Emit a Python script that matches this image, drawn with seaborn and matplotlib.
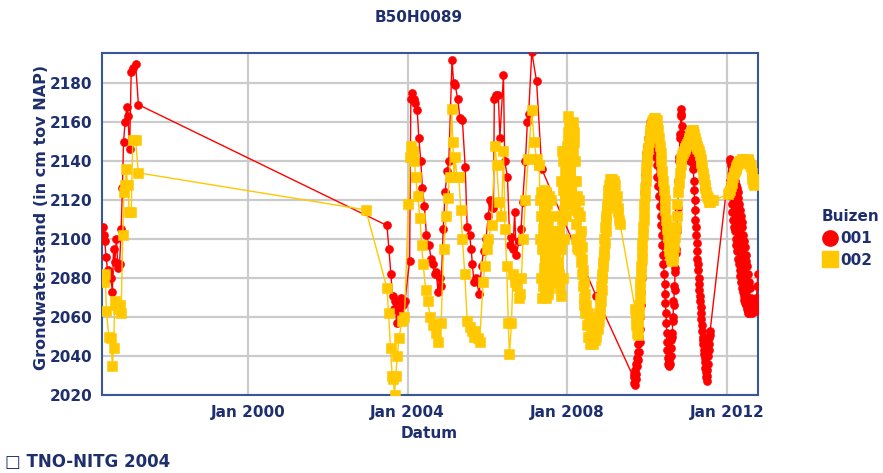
import numpy as np
import pandas as pd
import matplotlib
matplotlib.use("Agg")
import matplotlib.pyplot as plt
from matplotlib.lines import Line2D
from matplotlib.ticker import MultipleLocator
import seaborn as sns

# ---------------- data (decimal years, cm tov NAP) ----------------
# Buis 001 : manual readings 1996-2007
t001_hand = [1996.37, 1996.39, 1996.41, 1996.44, 1996.48, 1996.52, 1996.56, 1996.60, 1996.63, 1996.66,
             1996.70, 1996.74, 1996.78, 1996.82, 1996.85, 1996.88, 1996.92, 1996.96, 1996.99, 1997.03,
             1997.07, 1997.11, 1997.18, 1997.25,
             2003.48, 2003.53, 2003.58, 2003.62, 2003.66, 2003.69, 2003.72, 2003.75, 2003.79, 2003.83,
             2003.88, 2003.93, 2004.05, 2004.08, 2004.11, 2004.15, 2004.19, 2004.24, 2004.28, 2004.33,
             2004.37, 2004.42, 2004.47, 2004.53, 2004.59, 2004.63, 2004.68, 2004.72, 2004.76, 2004.80,
             2004.84, 2004.89, 2004.94, 2004.99, 2005.03, 2005.11, 2005.15, 2005.19, 2005.25, 2005.31,
             2005.37, 2005.44, 2005.49, 2005.55, 2005.59, 2005.62, 2005.66, 2005.71, 2005.79, 2005.85,
             2005.90, 2005.96, 2006.02, 2006.06, 2006.11, 2006.15, 2006.17, 2006.22, 2006.27, 2006.31,
             2006.40, 2006.43, 2006.50, 2006.56, 2006.60, 2006.64, 2006.68, 2006.72, 2006.79, 2006.84,
             2006.88, 2006.95, 2007.00, 2007.03, 2007.11, 2007.23, 2007.36, 2008.72]
v001_hand = [2106, 2102, 2099, 2091, 2084, 2083, 2080, 2073, 2095, 2088,
             2100, 2085, 2087, 2105, 2126, 2150, 2160, 2168, 2163, 2146,
             2186, 2188, 2190, 2169,
             2107, 2095, 2082, 2071, 2064, 2068, 2057, 2067, 2063, 2070,
             2066, 2068, 2089, 2172, 2175, 2172, 2170, 2166, 2152, 2140,
             2126, 2117, 2102, 2097, 2090, 2087, 2082, 2083, 2073, 2080,
             2076, 2105, 2124, 2135, 2140, 2192, 2180, 2179, 2172, 2162,
             2161, 2137, 2106, 2102, 2095, 2087, 2078, 2080, 2072, 2086,
             2094, 2100, 2112, 2120, 2118, 2116, 2172, 2174, 2174, 2152,
             2184, 2140, 2132, 2097, 2101, 2095, 2114, 2092, 2099, 2105,
             2119, 2140, 2160, 2164, 2196, 2181, 2136, 2071]

# Buis 001 : logger 2009.66 - 2011.58
t001_log1 = [2009.66, 2009.67, 2009.68, 2009.69, 2009.70, 2009.71, 2009.72, 2009.73, 2009.74, 2009.75,
             2009.76, 2009.77, 2009.78, 2009.79, 2009.80, 2009.81, 2009.82, 2009.83, 2009.84, 2009.85,
             2009.86, 2009.87, 2009.88, 2009.89, 2009.90, 2009.91, 2009.92, 2009.93, 2009.94, 2009.95,
             2009.96, 2009.97, 2009.98, 2010.00, 2010.02, 2010.04, 2010.06, 2010.08,
             2010.11, 2010.14, 2010.17, 2010.20, 2010.22, 2010.24, 2010.26, 2010.28, 2010.30, 2010.32,
             2010.34, 2010.35, 2010.37, 2010.38, 2010.40, 2010.41, 2010.43, 2010.44, 2010.45, 2010.46,
             2010.47, 2010.48, 2010.49, 2010.50, 2010.51, 2010.52, 2010.53, 2010.54, 2010.55,
             2010.56, 2010.57, 2010.58, 2010.59, 2010.60, 2010.61, 2010.62, 2010.63, 2010.64, 2010.65,
             2010.66, 2010.67, 2010.68, 2010.69, 2010.70, 2010.71, 2010.72, 2010.73, 2010.74, 2010.75,
             2010.76, 2010.77, 2010.78, 2010.79, 2010.80, 2010.81, 2010.82, 2010.83, 2010.84, 2010.85,
             2010.86, 2010.87, 2010.88, 2010.90, 2010.92, 2010.94, 2010.96, 2010.98, 2011.00, 2011.02,
             2011.04, 2011.06, 2011.08, 2011.10, 2011.12, 2011.14, 2011.16,
             2011.17, 2011.18, 2011.19, 2011.20, 2011.21, 2011.22, 2011.23, 2011.24, 2011.25, 2011.26,
             2011.27, 2011.28, 2011.29, 2011.30, 2011.31, 2011.32, 2011.33, 2011.34, 2011.35, 2011.36,
             2011.37, 2011.38, 2011.39, 2011.40, 2011.41, 2011.42, 2011.43, 2011.44, 2011.45, 2011.46,
             2011.47, 2011.48, 2011.49, 2011.50, 2011.51, 2011.52, 2011.53, 2011.54, 2011.55, 2011.56,
             2011.57, 2011.58]
v001_log1 = [2029, 2026, 2031, 2025, 2033, 2028, 2036, 2031, 2039, 2035,
             2042, 2038, 2046, 2042, 2050, 2047, 2054, 2060, 2066, 2073,
             2080, 2087, 2094, 2101, 2108, 2114, 2119, 2124, 2129, 2133,
             2137, 2141, 2144, 2148, 2152, 2155, 2158, 2160,
             2158, 2154, 2150, 2146, 2142, 2138, 2132, 2127, 2122, 2117,
             2112, 2107, 2102, 2097, 2092, 2087, 2082, 2077, 2072, 2067,
             2062, 2057, 2052, 2047, 2043, 2039, 2036, 2038, 2035,
             2040, 2036, 2044, 2040, 2048, 2044, 2052, 2050, 2060, 2058,
             2068, 2066, 2076, 2074, 2085, 2083, 2095, 2093, 2106, 2104,
             2118, 2116, 2130, 2128, 2142, 2140, 2154, 2152, 2164, 2167,
             2163, 2158, 2154, 2150, 2147, 2149, 2151, 2147, 2144, 2146,
             2148, 2144, 2140, 2142, 2144, 2139, 2136,
             2130, 2125, 2120, 2115, 2110, 2106, 2102, 2098, 2094, 2090,
             2087, 2084, 2080, 2077, 2074, 2071, 2068, 2065, 2062, 2059,
             2056, 2053, 2050, 2048, 2046, 2043, 2041, 2039, 2037, 2034,
             2032, 2029, 2027, 2030, 2033, 2036, 2040, 2043, 2046, 2049,
             2051, 2053]

# Buis 001 : logger 2012
t001_log2 = [2012.07, 2012.08, 2012.09, 2012.10, 2012.11, 2012.12, 2012.13, 2012.14, 2012.15, 2012.16,
             2012.17, 2012.18, 2012.19, 2012.20, 2012.21, 2012.22, 2012.23, 2012.24, 2012.25, 2012.26,
             2012.27, 2012.28, 2012.29, 2012.30, 2012.31, 2012.32, 2012.33, 2012.34, 2012.35, 2012.36,
             2012.37, 2012.38, 2012.39, 2012.40, 2012.41, 2012.42, 2012.43, 2012.44, 2012.45, 2012.46,
             2012.47, 2012.48, 2012.49, 2012.50, 2012.51, 2012.52, 2012.53, 2012.54, 2012.55, 2012.56,
             2012.57, 2012.58, 2012.60, 2012.62, 2012.64, 2012.66, 2012.68, 2012.70, 2012.72, 2012.74,
             2012.76, 2012.78]
v001_log2 = [2140, 2130, 2141, 2122, 2138, 2118, 2137, 2114, 2136, 2110,
             2134, 2106, 2132, 2104, 2130, 2100, 2128, 2097, 2126, 2094,
             2124, 2090, 2121, 2087, 2118, 2084, 2115, 2081, 2112, 2078,
             2109, 2075, 2106, 2073, 2102, 2071, 2099, 2069, 2096, 2067,
             2092, 2066, 2089, 2064, 2086, 2063, 2082, 2062, 2078, 2062,
             2075, 2063, 2070, 2062, 2066, 2063, 2064, 2066, 2063, 2070,
             2076, 2082]

# Buis 002 : manual readings 1996-2007
t002_hand = [1996.37, 1996.39, 1996.42, 1996.45, 1996.51, 1996.56, 1996.60, 1996.63, 1996.66, 1996.70,
             1996.74, 1996.78, 1996.82, 1996.86, 1996.89, 1996.92, 1996.95, 1996.98, 1997.02, 1997.07,
             1997.11, 1997.18, 1997.25, 2002.95,
             2003.48, 2003.52, 2003.57, 2003.61, 2003.64, 2003.67, 2003.70, 2003.74, 2003.78, 2003.86,
             2003.92, 2004.02, 2004.06, 2004.09, 2004.13, 2004.17, 2004.20, 2004.25, 2004.31, 2004.35,
             2004.39, 2004.45, 2004.50, 2004.57, 2004.64, 2004.70, 2004.77, 2004.84, 2004.90, 2004.97,
             2005.00, 2005.05, 2005.10, 2005.13, 2005.16, 2005.19, 2005.23, 2005.28, 2005.33, 2005.37,
             2005.43, 2005.49, 2005.55, 2005.60, 2005.65, 2005.69, 2005.75, 2005.80, 2005.89, 2005.93,
             2005.98, 2006.02, 2006.10, 2006.19, 2006.23, 2006.29, 2006.35, 2006.40, 2006.44, 2006.48,
             2006.52, 2006.55, 2006.60, 2006.64, 2006.68, 2006.73, 2006.78, 2006.82, 2006.85, 2006.89,
             2006.95, 2007.02, 2007.11, 2007.17, 2007.23, 2007.29]
v002_hand = [2081, 2078, 2082, 2063, 2050, 2049, 2035, 2044, 2068, 2066,
             2064, 2066, 2062, 2102, 2124, 2128, 2136, 2128, 2114, 2114,
             2151, 2151, 2134, 2115,
             2075, 2062, 2044, 2030, 2028, 2020, 2030, 2040, 2049, 2058,
             2060, 2118, 2142, 2148, 2145, 2140, 2132, 2122, 2111, 2097,
             2087, 2074, 2068, 2060, 2056, 2052, 2047, 2057, 2095, 2112,
             2121, 2132, 2167, 2150, 2132, 2142, 2132, 2132, 2115, 2100,
             2082, 2058, 2055, 2053, 2050, 2053, 2049, 2047, 2078, 2086,
             2095, 2100, 2107, 2148, 2138, 2119, 2112, 2145, 2105, 2086,
             2057, 2041, 2057, 2082, 2078, 2076, 2070, 2072, 2080, 2100,
             2120, 2141, 2166, 2150, 2141, 2138]

# Buis 002 : logger 2007.30 - 2009.32
t002_log1 = [2007.30, 2007.31, 2007.32, 2007.33, 2007.34, 2007.35, 2007.36, 2007.37, 2007.38, 2007.39,
             2007.40, 2007.41, 2007.42, 2007.43, 2007.44, 2007.45, 2007.46, 2007.47, 2007.48, 2007.49,
             2007.50, 2007.51, 2007.52, 2007.53, 2007.54, 2007.55, 2007.56, 2007.57, 2007.58, 2007.59,
             2007.60, 2007.61, 2007.62, 2007.63, 2007.64, 2007.65, 2007.66, 2007.67, 2007.68, 2007.69,
             2007.70, 2007.71, 2007.72, 2007.73, 2007.74, 2007.75, 2007.76, 2007.77, 2007.78, 2007.79,
             2007.80, 2007.81, 2007.82, 2007.83, 2007.84, 2007.85, 2007.86, 2007.87, 2007.88, 2007.89,
             2007.90, 2007.91, 2007.92, 2007.93, 2007.94, 2007.95, 2007.96, 2007.97, 2007.98, 2007.99,
             2008.00, 2008.01, 2008.02, 2008.03, 2008.04, 2008.05, 2008.06, 2008.07, 2008.08, 2008.09,
             2008.10, 2008.11, 2008.12, 2008.13, 2008.14, 2008.15, 2008.16, 2008.17, 2008.18, 2008.19,
             2008.20, 2008.21, 2008.22, 2008.23, 2008.24, 2008.25, 2008.26, 2008.27, 2008.28, 2008.29,
             2008.30, 2008.31, 2008.32, 2008.33, 2008.34, 2008.35, 2008.36, 2008.37, 2008.38, 2008.39,
             2008.40, 2008.41, 2008.42, 2008.43, 2008.44, 2008.45, 2008.47, 2008.49, 2008.51, 2008.53,
             2008.55, 2008.57, 2008.59, 2008.61, 2008.63, 2008.65, 2008.67, 2008.69, 2008.71, 2008.73,
             2008.75, 2008.77, 2008.79, 2008.80, 2008.81, 2008.82, 2008.83, 2008.84, 2008.85, 2008.86,
             2008.87, 2008.88, 2008.89, 2008.90, 2008.91, 2008.92, 2008.93, 2008.94, 2008.95, 2008.96,
             2008.97, 2008.98, 2008.99, 2009.00, 2009.01, 2009.02, 2009.03, 2009.04, 2009.05, 2009.06,
             2009.08, 2009.10, 2009.12, 2009.14, 2009.16, 2009.18, 2009.20, 2009.22, 2009.24, 2009.26,
             2009.28, 2009.30, 2009.32]
v002_log1 = [2138, 2120, 2100, 2124, 2080, 2112, 2070, 2095, 2122, 2076,
             2105, 2125, 2085, 2072, 2116, 2092, 2124, 2070, 2100, 2118,
             2080, 2110, 2072, 2122, 2088, 2075, 2112, 2096, 2120, 2078,
             2104, 2090, 2100, 2082, 2098, 2086, 2102, 2080, 2096, 2090,
             2104, 2082, 2098, 2088, 2102, 2080, 2095, 2086, 2104, 2082,
             2098, 2075, 2112, 2071, 2130, 2095, 2145, 2110, 2140, 2080,
             2125, 2100, 2145, 2115, 2135, 2120, 2142, 2112, 2130, 2118,
             2148, 2155, 2163, 2150, 2160, 2135, 2158, 2125, 2150, 2120,
             2140, 2122, 2150, 2158, 2160, 2145, 2155, 2130, 2150, 2115,
             2140, 2108, 2130, 2100, 2122, 2096, 2114, 2100, 2095, 2112,
             2120, 2100, 2112, 2094, 2104, 2088, 2096, 2082, 2090, 2076,
             2084, 2070, 2078, 2066, 2072, 2062, 2066, 2056, 2062, 2050,
             2058, 2046, 2054, 2048, 2056, 2046, 2054, 2048, 2058, 2050,
             2060, 2054, 2062, 2058, 2066, 2062, 2070, 2068, 2076, 2074,
             2082, 2080, 2088, 2086, 2094, 2092, 2100, 2098, 2106, 2104,
             2112, 2110, 2117, 2116, 2121, 2119, 2125, 2123, 2128, 2126,
             2131, 2127, 2131, 2125, 2130, 2124, 2128, 2120, 2122, 2114,
             2116, 2110, 2108]

# Buis 002 : logger 2009.70 - 2012.78
t002_log2 = [2009.70, 2009.71, 2009.72, 2009.73, 2009.74, 2009.75, 2009.76, 2009.77, 2009.78, 2009.79,
             2009.80, 2009.81, 2009.82, 2009.83, 2009.84, 2009.85, 2009.86, 2009.87, 2009.88, 2009.89,
             2009.90, 2009.91, 2009.92, 2009.93, 2009.94, 2009.95, 2009.96, 2009.97, 2009.98, 2009.99,
             2010.00, 2010.02, 2010.04, 2010.06, 2010.08, 2010.10, 2010.12, 2010.14, 2010.16, 2010.18,
             2010.20, 2010.22, 2010.24, 2010.26, 2010.28, 2010.30, 2010.32, 2010.34, 2010.36, 2010.38,
             2010.40, 2010.42, 2010.44, 2010.46, 2010.48, 2010.50, 2010.52, 2010.54, 2010.56, 2010.58,
             2010.60, 2010.62, 2010.64, 2010.66, 2010.68, 2010.70, 2010.72, 2010.74, 2010.76, 2010.78,
             2010.80, 2010.82, 2010.84, 2010.86, 2010.88, 2010.90, 2010.92, 2010.94, 2010.96, 2010.98,
             2011.00, 2011.02, 2011.04, 2011.06, 2011.08, 2011.10, 2011.12, 2011.14, 2011.16, 2011.18,
             2011.20, 2011.22, 2011.24, 2011.26, 2011.28, 2011.30, 2011.32, 2011.34, 2011.36, 2011.38,
             2011.40, 2011.42, 2011.44, 2011.46, 2011.48, 2011.50, 2011.52, 2011.54, 2011.56, 2011.58,
             2011.66, 2012.04, 2012.06, 2012.08, 2012.10, 2012.12, 2012.14, 2012.16, 2012.18, 2012.20,
             2012.22, 2012.24, 2012.26, 2012.28, 2012.30, 2012.32, 2012.34, 2012.36, 2012.38, 2012.40,
             2012.42, 2012.44, 2012.46, 2012.48, 2012.50, 2012.52, 2012.54, 2012.56, 2012.58, 2012.60,
             2012.62, 2012.64, 2012.66, 2012.68, 2012.70, 2012.72, 2012.74, 2012.76, 2012.78]
v002_log2 = [2064, 2060, 2062, 2056, 2058, 2052, 2056, 2051, 2058, 2062,
             2066, 2070, 2074, 2078, 2082, 2086, 2090, 2094, 2098, 2102,
             2106, 2110, 2114, 2118, 2122, 2126, 2130, 2134, 2137, 2140,
             2143, 2147, 2150, 2153, 2156, 2158, 2160, 2161, 2162, 2161,
             2162, 2160, 2161, 2158, 2156, 2152, 2148, 2144, 2140, 2135,
             2130, 2125, 2120, 2115, 2110, 2105, 2101, 2097, 2094, 2092,
             2090, 2089, 2090, 2092, 2096, 2101, 2106, 2112, 2118, 2124,
             2129, 2134, 2138, 2141, 2143, 2144, 2145, 2146, 2147, 2148,
             2149, 2150, 2151, 2152, 2154, 2155, 2156, 2156, 2155, 2154,
             2152, 2150, 2148, 2147, 2146, 2145, 2143, 2141, 2139, 2137,
             2134, 2131, 2128, 2126, 2124, 2122, 2121, 2120, 2119, 2119,
             2120, 2123, 2124, 2125, 2127, 2129, 2131, 2132, 2134, 2135,
             2136, 2137, 2138, 2139, 2139, 2140, 2140, 2140, 2141, 2141,
             2140, 2140, 2139, 2140, 2140, 2141, 2140, 2139, 2138, 2137,
             2134, 2131, 2129, 2128, 2130, 2131, 2130, 2129, 2130]

series_names = ["001", "002"]
x_ticks = ["2000-01-01", "2004-01-01", "2008-01-01", "2012-01-01"]
x_range = [1996.34, 2012.78]
y_range = [2020, 2195.5]


def to_date(y):
    yr = int(np.floor(y))
    return pd.Timestamp(year=yr, month=1, day=1) + pd.Timedelta(days=(y - yr) * 365.25)


t001 = t001_hand + t001_log1 + t001_log2
v001 = v001_hand + v001_log1 + v001_log2
t002 = t002_hand + t002_log1 + t002_log2
v002 = v002_hand + v002_log1 + v002_log2

df = pd.concat([
    pd.DataFrame({"datum": [to_date(t) for t in t001], "waarde": v001, "buis": "001"}),
    pd.DataFrame({"datum": [to_date(t) for t in t002], "waarde": v002, "buis": "002"}),
], ignore_index=True)

# ---------------- style ----------------
sns.set_theme(style="white")
plt.rcParams["font.family"] = ["DejaVu Sans"]

RED = "#FF0000"
YEL = "#FFC800"
NAVY = "#1E2F6E"
SPINE = "#3A5795"
GRID = "#CBCBCB"

fig = plt.figure(figsize=(8.83, 4.73), dpi=100)
ax = fig.add_axes([102 / 883, 1 - 395 / 473, (758 - 102) / 883, (395 - 53) / 473])

styles = {"001": (RED, "o", 5.8), "002": (YEL, "s", 6.6)}
for i, name in enumerate(series_names):
    color, marker, ms = styles[name]
    sub = df[df["buis"] == name]
    sns.lineplot(data=sub, x="datum", y="waarde", ax=ax, color=color, marker=marker,
                 markersize=ms, linewidth=1.0, estimator=None, sort=False,
                 legend=False, zorder=3 + i)
for line in ax.lines:
    line.set_markeredgecolor(line.get_color())
    line.set_markerfacecolor(line.get_color())
    line.set_markeredgewidth(0.4)

ax.set_xlim(to_date(x_range[0]), to_date(x_range[1]))
ax.set_ylim(*y_range)
ax.set_xticks([pd.Timestamp(s) for s in x_ticks])
ax.set_xticklabels([pd.Timestamp(s).strftime("%b %Y") for s in x_ticks])
ax.yaxis.set_major_locator(MultipleLocator(20))
ax.yaxis.set_minor_locator(MultipleLocator(10))

ax.grid(True, which="major", color=GRID, linewidth=1.6, zorder=0)
ax.set_axisbelow(True)
for sp in ax.spines.values():
    sp.set_color(SPINE)
    sp.set_linewidth(1.5)
    sp.set_visible(True)

ax.tick_params(axis="both", which="both", direction="inout", length=8, width=1.3,
               color=SPINE, labelcolor=NAVY, labelsize=11, pad=3)
for lab in ax.get_xticklabels() + ax.get_yticklabels():
    lab.set_fontweight("bold")

ax.set_xlabel("")
ax.set_ylabel("")

fig.text(419 / 883, 1 - 18 / 473, "B50H0089", ha="center", va="center",
         color=NAVY, fontsize=11, fontweight="bold")
fig.text(42 / 883, 1 - 217 / 473, "Grondwaterstand (in cm tov NAP)", rotation=90,
         ha="center", va="center", color=NAVY, fontsize=11.5, fontweight="bold")
fig.text(429 / 883, 1 - 434 / 473, "Datum", ha="center", va="center",
         color=NAVY, fontsize=11, fontweight="bold")
fig.text(5 / 883, 1 - 462 / 473, "\u25a1 TNO-NITG 2004", ha="left", va="center",
         color=NAVY, fontsize=12, fontweight="bold")

handles = [Line2D([], [], linestyle="none", marker="o", markersize=11, color=RED),
           Line2D([], [], linestyle="none", marker="s", markersize=11, color=YEL)]
leg = fig.legend(handles, series_names, title="Buizen", loc="upper left",
                 bbox_to_anchor=(822 / 883, 1 - 209 / 473), frameon=False,
                 handlelength=1.0, handletextpad=0.2, labelspacing=0.45,
                 borderaxespad=0, borderpad=0, prop={"weight": "bold", "size": 11})
leg.get_title().set_fontweight("bold")
leg.get_title().set_fontsize(11)
leg.get_title().set_color(NAVY)
for txt in leg.get_texts():
    txt.set_color(NAVY)
leg._legend_box.align = "left"

fig.savefig("out.png", dpi=100)
